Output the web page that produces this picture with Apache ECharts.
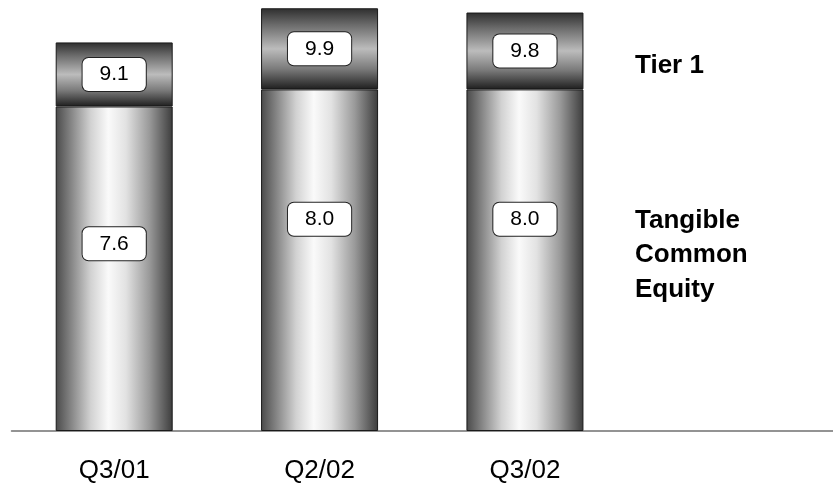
<!DOCTYPE html>
<html>
<head>
<meta charset="utf-8">
<script src="https://cdn.jsdelivr.net/npm/echarts@6/dist/echarts.min.js"></script>
<style>
  html, body { margin: 0; padding: 0; background: #fff; }
  #chart { width: 833px; height: 487px; }
</style>
</head>
<body>
<div id="chart"></div>
<script>
// Capital ratios (%) by quarter
const quarters = ['Q3/01', 'Q2/02', 'Q3/02'];
const tangibleCommonEquity = [7.6, 8.0, 8.0];
const tier1 = [9.1, 9.9, 9.8];
const seriesNames = ['Tangible\nCommon\nEquity', 'Tier 1'];

// Portion of Tier 1 sitting above tangible common equity (stacked on top)
const tier1Excess = tier1.map((t, i) => Math.round((t - tangibleCommonEquity[i]) * 10) / 10);

const FONT = '"Liberation Sans", Arial, Helvetica, sans-serif';

// Horizontal cylinder shading for the lower segment
const bodyFill = new echarts.graphic.LinearGradient(0, 0, 1, 0, [
  { offset: 0.00, color: '#4a4a4a' },
  { offset: 0.12, color: '#808080' },
  { offset: 0.30, color: '#d2d2d2' },
  { offset: 0.45, color: '#fafafa' },
  { offset: 0.60, color: '#e2e2e2' },
  { offset: 0.80, color: '#9a9a9a' },
  { offset: 1.00, color: '#3c3c3c' }
]);

// Vertical shading for the upper (Tier 1) cap
const capFill = new echarts.graphic.LinearGradient(0, 0, 0, 1, [
  { offset: 0.00, color: '#2e2e2e' },
  { offset: 0.20, color: '#6a6a6a' },
  { offset: 0.50, color: '#bcbcbc' },
  { offset: 0.75, color: '#7a7a7a' },
  { offset: 1.00, color: '#1e1e1e' }
]);

const boxLabel = {
  show: true,
  position: 'inside',
  color: '#000',
  fontFamily: FONT,
  fontSize: 21,
  lineHeight: 21,
  backgroundColor: '#fff',
  borderColor: '#222',
  borderWidth: 1,
  borderRadius: 6,
  padding: [6, 17]
};

// Lower-segment label offsets per bar
const bodyLabelOffsets = [[0, -25], [0, -41], [0, -41]];

const chart = echarts.init(document.getElementById('chart'), null, { renderer: 'canvas' });

chart.setOption({
  animation: false,
  backgroundColor: '#fff',
  grid: { left: 11.5, right: -10.5, top: 4, bottom: 56, containLabel: false },
  xAxis: {
    type: 'category',
    data: quarters.concat(['']),
    axisLine: { show: true, lineStyle: { color: '#707070', width: 1.5 } },
    axisTick: { show: false },
    axisLabel: {
      color: '#000',
      fontFamily: FONT,
      fontSize: 26,
      lineHeight: 26,
      margin: 27
    },
    splitLine: { show: false }
  },
  yAxis: {
    type: 'value',
    min: 0,
    max: 10,
    show: false,
    splitLine: { show: false }
  },
  series: [
    {
      name: seriesNames[0],
      type: 'bar',
      stack: 'capital',
      barWidth: 117,
      data: tangibleCommonEquity.map((v, i) => ({
        value: v,
        label: Object.assign({}, boxLabel, { offset: bodyLabelOffsets[i] })
      })),
      itemStyle: { color: bodyFill, borderColor: '#1a1a1a', borderWidth: 1 },
      label: Object.assign({}, boxLabel, {
        formatter: p => tangibleCommonEquity[p.dataIndex].toFixed(1)
      })
    },
    {
      name: seriesNames[1],
      type: 'bar',
      stack: 'capital',
      barWidth: 117,
      data: tier1Excess,
      itemStyle: { color: capFill, borderColor: '#1a1a1a', borderWidth: 1 },
      label: Object.assign({}, boxLabel, {
        formatter: p => tier1[p.dataIndex].toFixed(1)
      })
    }
  ],
  graphic: [
    {
      type: 'text',
      left: 635,
      top: 53,
      style: {
        text: seriesNames[1],
        font: 'bold 26px ' + FONT,
        fill: '#000'
      }
    },
    {
      type: 'text',
      left: 635,
      top: 203,
      style: {
        text: seriesNames[0],
        font: 'bold 26px ' + FONT,
        lineHeight: 34.7,
        fill: '#000'
      }
    }
  ]
});
</script>
</body>
</html>
